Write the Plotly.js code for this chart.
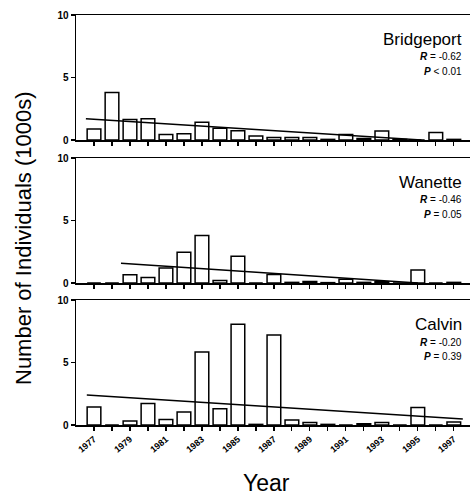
<!DOCTYPE html>
<html>
<head>
<meta charset="utf-8">
<script src="https://cdn.plot.ly/plotly-3.0.1.min.js"></script>
<style>html,body{margin:0;padding:0;background:#fff;}#chart{width:470px;height:496px;}</style>
</head>
<body>
<div id="chart"></div>
<script>
const years = [1977,1978,1979,1980,1981,1982,1983,1984,1985,1986,1987,1988,1989,1990,1991,1992,1993,1994,1995,1996,1997];
const bridgeport = [0.88,3.8,1.65,1.7,0.45,0.5,1.42,0.95,0.75,0.32,0.2,0.2,0.2,0.05,0.45,0.12,0.72,0.05,0,0.6,0.05];
const wanette = [0,0,0.67,0.45,1.2,2.47,3.8,0.2,2.15,0,0.68,0.05,0.13,0.03,0.3,0.05,0.1,0,1.05,0,0.05];
const calvin = [1.45,0,0.32,1.73,0.45,1.05,5.85,1.3,8.05,0.05,7.2,0.4,0.2,0.05,0,0.1,0.2,0,1.4,0,0.25];
const bridgeportTrendX = [1976.55,1995.2], bridgeportTrendY = [1.7,0];
const wanetteTrendX = [1978.5,1995], wanetteTrendY = [1.58,0];
const calvinTrendX = [1976.6,1997.5], calvinTrendY = [2.4,0.48];
const sites = ['Bridgeport','Wanette','Calvin'];
const stats = [['-0.62','< 0.01'],['-0.46','= 0.05'],['-0.20','= 0.39']];
const tickLabels = years.map(y => (y % 2 === 1) ? String(y) : '');

const series = [bridgeport, wanette, calvin];
const trendsX = [bridgeportTrendX, wanetteTrendX, calvinTrendX];
const trendsY = [bridgeportTrendY, wanetteTrendY, calvinTrendY];

const H = 496, T = 15, B = 71;
const plotH = H - T - B;
const panelPx = [[15,140],[158,283],[300,425]];
const toPaper = py => (H - B - py) / plotH;

const traces = [];
const layout = {
  width: 470, height: 496,
  margin: {l: 76, r: 0, t: T, b: B},
  paper_bgcolor: '#fff', plot_bgcolor: '#fff',
  showlegend: false,
  font: {family: 'Liberation Sans, Arial, sans-serif', color: '#000'},
  annotations: [],
  bargap: 0.25
};

for (let i = 0; i < 3; i++) {
  const s = i === 0 ? '' : String(i + 1);
  traces.push({
    type: 'bar', x: years, y: series[i], xaxis: 'x' + s, yaxis: 'y' + s,
    width: 0.76,
    marker: {color: '#fff', line: {color: '#000', width: 1.5}}
  });
  traces.push({
    type: 'scatter', mode: 'lines', x: trendsX[i], y: trendsY[i], xaxis: 'x' + s, yaxis: 'y' + s,
    line: {color: '#000', width: 1.5}
  });
  const dom = [toPaper(panelPx[i][1]), toPaper(panelPx[i][0])];
  layout['xaxis' + s] = {
    range: [1976, 1997.9], anchor: 'y' + s,
    showline: true, linecolor: '#000', linewidth: 1.5, mirror: true,
    ticks: 'outside', ticklen: 4, tickwidth: 1.2, tickcolor: '#000',
    tickvals: years, ticktext: tickLabels,
    showticklabels: i === 2, tickangle: -40,
    tickfont: {size: 9, weight: 'bold', family: 'Liberation Sans, Arial, sans-serif'},
    showgrid: false, zeroline: false, fixedrange: true
  };
  layout['yaxis' + s] = {
    domain: dom, range: [0, 10], anchor: 'x' + s,
    showline: true, linecolor: '#000', linewidth: 1.5,
    ticks: 'outside', ticklen: 4, tickwidth: 1.2, tickcolor: '#000',
    tickvals: [0, 5, 10], ticktext: ['0', '5', '10'],
    tickfont: {size: 10, weight: 'bold', family: 'Liberation Sans, Arial, sans-serif'},
    showgrid: false, zeroline: false, fixedrange: true
  };
  const top = panelPx[i][0];
  const xr = (464 - 76) / 394;
  layout.annotations.push({
    xref: 'paper', yref: 'paper', x: xr, y: toPaper(top + 24), xanchor: 'right', yanchor: 'middle',
    text: sites[i], showarrow: false, font: {size: 17}
  });
  layout.annotations.push({
    xref: 'paper', yref: 'paper', x: xr, y: toPaper(top + 42), xanchor: 'right', yanchor: 'middle',
    text: '<b><i>R</i></b> = ' + stats[i][0], showarrow: false, font: {size: 10}
  });
  layout.annotations.push({
    xref: 'paper', yref: 'paper', x: xr, y: toPaper(top + 56), xanchor: 'right', yanchor: 'middle',
    text: '<b><i>P</i></b> ' + stats[i][1], showarrow: false, font: {size: 10}
  });
}

layout.annotations.push({
  xref: 'paper', yref: 'paper', x: (23 - 76) / 394, y: toPaper(239), xanchor: 'center', yanchor: 'middle',
  text: 'Number of Individuals (1000s)', textangle: -90, showarrow: false, font: {size: 22}
});
layout.annotations.push({
  xref: 'paper', yref: 'paper', x: (266 - 76) / 394, y: toPaper(483), xanchor: 'center', yanchor: 'middle',
  text: 'Year', showarrow: false, font: {size: 23}
});

Plotly.newPlot('chart', traces, layout, {displayModeBar: false, staticPlot: true});
</script>
</body>
</html>
